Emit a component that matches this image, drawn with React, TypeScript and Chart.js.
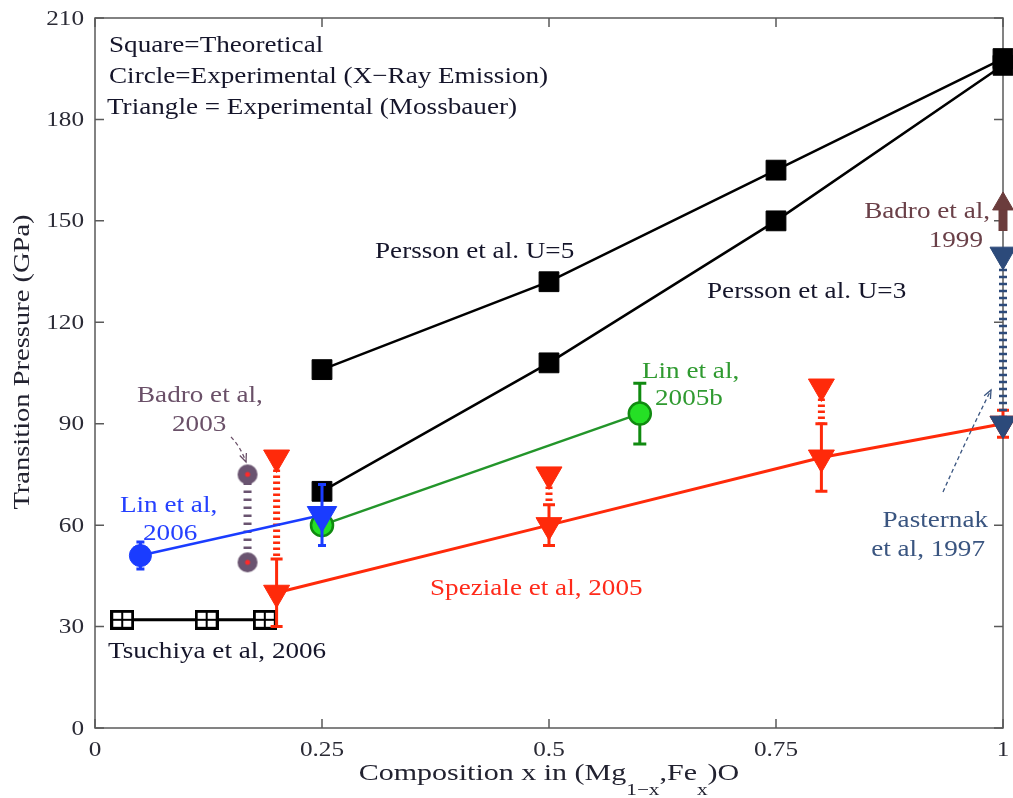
import React, { useEffect, useRef } from "react";
import { Chart, registerables } from "chart.js";

Chart.register(...registerables);

const SERIF = '"Liberation Serif", "Times New Roman", Times, serif';

// ---------- data ----------
const xTickValues = [0, 0.25, 0.5, 0.75, 1];
const xTickLabels = ["0", "0.25", "0.5", "0.75", "1"];
const yTickValues = [0, 30, 60, 90, 120, 150, 180, 210];
const yTickLabels = ["0", "30", "60", "90", "120", "150", "180", "210"];

const perssonU5X = [0.25, 0.5, 0.75, 1];
const perssonU5Y = [106, 132, 165, 198];
const perssonU3X = [0.25, 0.5, 0.75, 1];
const perssonU3Y = [70, 108, 150, 196];

const tsuchiyaX = [0.03, 0.123, 0.187];
const tsuchiyaY = [32, 32, 32];

const lin2006X = [0.05, 0.25];
const lin2006Y = [51, 63];
const lin2006Err = [4, 9];

const lin2005bX = [0.25, 0.6];
const lin2005bY = [60, 93];
const lin2005bErr = [0, 9];

const badro2003X = [0.168, 0.168];
const badro2003Y = [75, 49];

const spezialeX = [0.2, 0.5, 0.8, 1];
const spezialeY = [40, 60, 80, 90];
const spezialeErr = [10, 6, 10, 4];
const spezialeUpperX = [0.2, 0.5, 0.8];
const spezialeUpperY = [80, 75, 101];
const spezialeDashLow = [50, 66, 90];

const pasternakX = [1, 1];
const pasternakY = [140, 90];

const badro1999X = [1, 1];
const badro1999ShaftY = [147, 153.5];
const badro1999HeadY = [155];

// ---------- helpers ----------
const pts = (xs: number[], ys: number[]) => xs.map((x, i) => ({ x, y: ys[i] }));

function makeMarker(w: number, h: number, draw: (c: CanvasRenderingContext2D) => void) {
  const c = document.createElement("canvas");
  c.width = w;
  c.height = h;
  const ctx = c.getContext("2d")!;
  draw(ctx);
  return c;
}

function stretchText(
  ctx: CanvasRenderingContext2D,
  text: string,
  x: number,
  y: number,
  size: number,
  color: string,
  align: CanvasTextAlign = "left",
  sx = 1.18,
  baseline: CanvasTextBaseline = "alphabetic"
) {
  ctx.save();
  ctx.font = `${size}px ${SERIF}`;
  ctx.fillStyle = color;
  ctx.textAlign = align;
  ctx.textBaseline = baseline;
  ctx.translate(x, y);
  ctx.scale(sx, 1);
  ctx.fillText(text, 0, 0);
  ctx.restore();
}

const annotations = [
  { text: "Square=Theoretical", x: 109, y: 52, color: "#15152a", align: "left" },
  { text: "Circle=Experimental (X\u2212Ray Emission)", x: 109, y: 83, color: "#15152a", align: "left" },
  { text: "Triangle = Experimental (Mossbauer)", x: 107, y: 114, color: "#15152a", align: "left" },
  { text: "Persson et al. U=5", x: 375, y: 258, color: "#15152a", align: "left" },
  { text: "Persson et al. U=3", x: 707, y: 298, color: "#15152a", align: "left" },
  { text: "Lin et al,", x: 642, y: 378, color: "#2f9a30", align: "left" },
  { text: "2005b", x: 655, y: 405, color: "#2f9a30", align: "left" },
  { text: "Badro et al,", x: 137, y: 402, color: "#6a5068", align: "left" },
  { text: "2003", x: 172, y: 431, color: "#6a5068", align: "left" },
  { text: "Lin et al,", x: 120, y: 512, color: "#2540ff", align: "left" },
  { text: "2006", x: 143, y: 540, color: "#2540ff", align: "left" },
  { text: "Tsuchiya et al, 2006", x: 108, y: 658, color: "#15152a", align: "left" },
  { text: "Speziale et al, 2005", x: 430, y: 595, color: "#ff2a1a", align: "left" },
  { text: "Badro et al,", x: 990, y: 218, color: "#6a4048", align: "right" },
  { text: "1999", x: 983, y: 247, color: "#6a4048", align: "right" },
  { text: "Pasternak", x: 988, y: 527, color: "#3a5580", align: "right" },
  { text: "et al, 1997", x: 985, y: 556, color: "#3a5580", align: "right" },
];

const pointers = [
  { x1: 231, y1: 437, cx: 240, cy: 446, x2: 246, y2: 462, color: "#6a5068" },
  { x1: 943, y1: 492, cx: 966, cy: 440, x2: 991, y2: 390, color: "#3a5580" },
];

const AXIS_COLOR = "#5a5a5a";
const TICK_COLOR = "#2a2a35";

const framePlugin = {
  id: "frame",
  beforeDatasetsDraw(chart: any) {
    const { ctx, chartArea: a, scales } = chart;
    const xs = scales.x;
    const ys = scales.y;
    ctx.save();
    ctx.strokeStyle = AXIS_COLOR;
    ctx.lineWidth = 1.5;
    ctx.strokeRect(a.left, a.top, a.right - a.left, a.bottom - a.top);
    const tl = 9;
    ctx.beginPath();
    yTickValues.forEach((v) => {
      const py = ys.getPixelForValue(v);
      ctx.moveTo(a.left, py);
      ctx.lineTo(a.left + tl, py);
      ctx.moveTo(a.right, py);
      ctx.lineTo(a.right - tl, py);
    });
    xTickValues.forEach((v) => {
      const px = xs.getPixelForValue(v);
      ctx.moveTo(px, a.bottom);
      ctx.lineTo(px, a.bottom - tl);
      ctx.moveTo(px, a.top);
      ctx.lineTo(px, a.top + tl);
    });
    ctx.stroke();
    ctx.restore();

    yTickValues.forEach((v, i) => {
      stretchText(ctx, yTickLabels[i], a.left - 11, ys.getPixelForValue(v) + 1, 21, TICK_COLOR, "right", 1.2, "middle");
    });
    xTickValues.forEach((v, i) => {
      stretchText(ctx, xTickLabels[i], xs.getPixelForValue(v), a.bottom + 28, 21, TICK_COLOR, "center", 1.2);
    });

    // y title
    ctx.save();
    ctx.translate(23, 362);
    ctx.rotate(-Math.PI / 2);
    ctx.scale(1.24, 1);
    ctx.font = `23px ${SERIF}`;
    ctx.fillStyle = "#222230";
    ctx.textAlign = "center";
    ctx.textBaseline = "middle";
    ctx.fillText("Transition Pressure (GPa)", 0, 0);
    ctx.restore();

    // x title with subscripts
    const parts = [
      { t: "Composition x in (Mg", sub: false },
      { t: "1\u2212x", sub: true },
      { t: ",Fe", sub: false },
      { t: "x", sub: true },
      { t: ")O", sub: false },
    ];
    const sx = 1.25;
    const mainSize = 24;
    const subSize = 17;
    let total = 0;
    ctx.save();
    parts.forEach((p) => {
      ctx.font = `${p.sub ? subSize : mainSize}px ${SERIF}`;
      total += ctx.measureText(p.t).width * sx;
    });
    ctx.restore();
    let cx = (a.left + a.right) / 2 - total / 2;
    parts.forEach((p) => {
      const size = p.sub ? subSize : mainSize;
      ctx.save();
      ctx.font = `${size}px ${SERIF}`;
      const w = ctx.measureText(p.t).width * sx;
      ctx.restore();
      stretchText(ctx, p.t, cx, p.sub ? 795 : 780, size, "#222230", "left", sx);
      cx += w;
    });
  },
};

const errorBarPlugin = {
  id: "errbars",
  beforeDatasetDraw(chart: any, args: any) {
    const ds: any = chart.data.datasets[args.index];
    if (!ds.errBars) return;
    const { ctx, scales } = chart;
    ctx.save();
    ctx.strokeStyle = ds.errColor;
    ctx.lineWidth = ds.errWidth || 3;
    ds.data.forEach((p: any, i: number) => {
      const e = ds.errBars[i];
      if (!e) return;
      const px = scales.x.getPixelForValue(p.x);
      const y1 = scales.y.getPixelForValue(p.y - e);
      const y2 = scales.y.getPixelForValue(p.y + e);
      const c = ds.errCap / 2;
      ctx.beginPath();
      ctx.moveTo(px, y1);
      ctx.lineTo(px, y2);
      ctx.moveTo(px - c, y1);
      ctx.lineTo(px + c, y1);
      ctx.moveTo(px - c, y2);
      ctx.lineTo(px + c, y2);
      ctx.stroke();
    });
    ctx.restore();
  },
};

const textPlugin = {
  id: "texts",
  afterDatasetsDraw(chart: any) {
    const { ctx } = chart;
    annotations.forEach((an) => {
      stretchText(ctx, an.text, an.x, an.y, 23, an.color, an.align as CanvasTextAlign, 1.18);
    });
    pointers.forEach((p) => {
      ctx.save();
      ctx.strokeStyle = p.color;
      ctx.lineWidth = 1.3;
      ctx.setLineDash([4, 3]);
      ctx.beginPath();
      ctx.moveTo(p.x1, p.y1);
      ctx.quadraticCurveTo(p.cx, p.cy, p.x2, p.y2);
      ctx.stroke();
      ctx.setLineDash([]);
      const ang = Math.atan2(p.y2 - p.cy, p.x2 - p.cx);
      const L = 9;
      ctx.beginPath();
      ctx.moveTo(p.x2 - L * Math.cos(ang - 0.4), p.y2 - L * Math.sin(ang - 0.4));
      ctx.lineTo(p.x2, p.y2);
      ctx.lineTo(p.x2 - L * Math.cos(ang + 0.4), p.y2 - L * Math.sin(ang + 0.4));
      ctx.stroke();
      ctx.restore();
    });
  },
};

export default function App() {
  const ref = useRef<HTMLCanvasElement | null>(null);

  useEffect(() => {
    if (!ref.current) return;

    const tsMarker = makeMarker(24, 20, (c) => {
      c.fillStyle = "#fff";
      c.fillRect(1, 1, 22, 18);
      c.strokeStyle = "#000";
      c.lineWidth = 3;
      c.strokeRect(1.5, 1.5, 21, 17);
      c.lineWidth = 2;
      c.beginPath();
      c.moveTo(12, 2);
      c.lineTo(12, 18);
      c.moveTo(2, 10);
      c.lineTo(22, 10);
      c.stroke();
    });

    const badroMarker = makeMarker(24, 24, (c) => {
      c.fillStyle = "#6a5470";
      c.beginPath();
      c.arc(12, 12, 10, 0, Math.PI * 2);
      c.fill();
      c.fillStyle = "#ff2a2a";
      c.beginPath();
      c.arc(12, 12, 2.5, 0, Math.PI * 2);
      c.fill();
    });

    const RED = "#ff2a0a";
    const BLUE = "#1a3cff";
    const NAVY = "#2c4a7a";

    const common = { clip: false as any, pointHoverRadius: 0 };

    // listed bottom-most first; reversed below because Chart.js paints the first dataset last
    const layers: any[] = [
      {
        ...common,
        label: "Tsuchiya",
        data: pts(tsuchiyaX, tsuchiyaY),
        showLine: true,
        borderColor: "#000",
        borderWidth: 3,
        pointStyle: tsMarker,
        pointRadius: 10,
      },
      {
        ...common,
        label: "Persson U=3",
        data: pts(perssonU3X, perssonU3Y),
        showLine: true,
        borderColor: "#000",
        borderWidth: 2.5,
        pointStyle: "rect",
        pointRadius: 14,
        pointBackgroundColor: "#000",
        pointBorderColor: "#000",
        pointBorderWidth: 1,
      },
      {
        ...common,
        label: "Persson U=5",
        data: pts(perssonU5X, perssonU5Y),
        showLine: true,
        borderColor: "#000",
        borderWidth: 2.5,
        pointStyle: "rect",
        pointRadius: 14,
        pointBackgroundColor: "#000",
        pointBorderColor: "#000",
        pointBorderWidth: 1,
      },
      {
        ...common,
        label: "Badro 2003 range",
        data: pts(badro2003X, badro2003Y),
        showLine: true,
        borderColor: "#6a5470",
        borderWidth: 8,
        borderDash: [2.5, 5.5],
        borderCapStyle: "butt",
        pointRadius: 0,
      },
      {
        ...common,
        label: "Badro 2003",
        data: pts(badro2003X, badro2003Y),
        showLine: false,
        pointStyle: badroMarker,
        pointRadius: 10,
      },
      ...spezialeUpperX.map((x, i) => ({
        ...common,
        label: "Speziale range " + i,
        data: pts([x, x], [spezialeUpperY[i], spezialeDashLow[i]]),
        showLine: true,
        borderColor: RED,
        borderWidth: 7,
        borderDash: [2.5, 3.5],
        borderCapStyle: "butt",
        pointRadius: 0,
      })),
      {
        ...common,
        label: "Speziale 2005",
        data: pts(spezialeX, spezialeY),
        showLine: true,
        borderColor: RED,
        borderWidth: 3,
        pointStyle: "triangle",
        pointRotation: 180,
        pointRadius: 15,
        pointBackgroundColor: RED,
        pointBorderColor: RED,
        pointBorderWidth: 1,
        errBars: spezialeErr,
        errColor: RED,
        errWidth: 3,
        errCap: 12,
      },
      {
        ...common,
        label: "Speziale upper",
        data: pts(spezialeUpperX, spezialeUpperY),
        showLine: false,
        pointStyle: "triangle",
        pointRotation: 180,
        pointRadius: 15,
        pointBackgroundColor: RED,
        pointBorderColor: RED,
        pointBorderWidth: 1,
      },
      {
        ...common,
        label: "Lin 2005b",
        data: pts(lin2005bX, lin2005bY),
        showLine: true,
        borderColor: "#23952a",
        borderWidth: 2.5,
        pointStyle: "circle",
        pointRadius: 11,
        pointBackgroundColor: "#25e025",
        pointBorderColor: "#108a10",
        pointBorderWidth: 2.5,
        errBars: lin2005bErr,
        errColor: "#108a10",
        errWidth: 3,
        errCap: 13,
      },
      {
        ...common,
        label: "Lin 2006",
        data: pts(lin2006X, lin2006Y),
        showLine: true,
        borderColor: BLUE,
        borderWidth: 2.5,
        pointStyle: ["circle", "triangle"],
        pointRotation: [0, 180],
        pointRadius: [11, 17],
        pointBackgroundColor: BLUE,
        pointBorderColor: BLUE,
        pointBorderWidth: 1,
        errBars: lin2006Err,
        errColor: BLUE,
        errWidth: 3,
        errCap: 8,
      },
      {
        ...common,
        label: "Pasternak range",
        data: pts(pasternakX, pasternakY),
        showLine: true,
        borderColor: NAVY,
        borderWidth: 8,
        borderDash: [2.5, 4.5],
        borderCapStyle: "butt",
        pointRadius: 0,
      },
      {
        ...common,
        label: "Pasternak 1997",
        data: pts(pasternakX, pasternakY),
        showLine: false,
        pointStyle: "triangle",
        pointRotation: 180,
        pointRadius: 15,
        pointBackgroundColor: NAVY,
        pointBorderColor: NAVY,
        pointBorderWidth: 1,
      },
      {
        ...common,
        label: "Badro 1999 shaft",
        data: pts(badro1999X, badro1999ShaftY),
        showLine: true,
        borderColor: "#6b3c3c",
        borderWidth: 9,
        borderCapStyle: "butt",
        pointRadius: 0,
      },
      {
        ...common,
        label: "Badro 1999",
        data: pts([badro1999X[0]], badro1999HeadY),
        showLine: false,
        pointStyle: "triangle",
        pointRotation: 0,
        pointRadius: 12,
        pointBackgroundColor: "#6b3c3c",
        pointBorderColor: "#6b3c3c",
        pointBorderWidth: 1,
      },
    ];
    const datasets = layers.slice().reverse();

    const chart = new Chart(ref.current, {
      type: "scatter",
      data: { datasets },
      options: {
        responsive: false,
        maintainAspectRatio: false,
        animation: false,
        events: [],
        layout: { autoPadding: false, padding: { top: 18, right: 10, left: 0, bottom: 0 } },
        plugins: {
          legend: { display: false },
          tooltip: { enabled: false },
        },
        scales: {
          x: {
            type: "linear",
            min: 0,
            max: 1,
            grid: { display: false },
            border: { display: false },
            ticks: { display: false, stepSize: 0.25 },
            afterFit: (s: any) => {
              s.height = 70;
            },
          },
          y: {
            type: "linear",
            min: 0,
            max: 210,
            grid: { display: false },
            border: { display: false },
            ticks: { display: false, stepSize: 30 },
            afterFit: (s: any) => {
              s.width = 95;
            },
          },
        },
      } as any,
      plugins: [framePlugin, errorBarPlugin, textPlugin],
    });

    return () => chart.destroy();
  }, []);

  return (
    <div style={{ position: "fixed", left: 0, top: 0, width: 1013, height: 798, background: "#fff" }}>
      <canvas ref={ref} width={1013} height={798} style={{ display: "block" }} />
    </div>
  );
}
